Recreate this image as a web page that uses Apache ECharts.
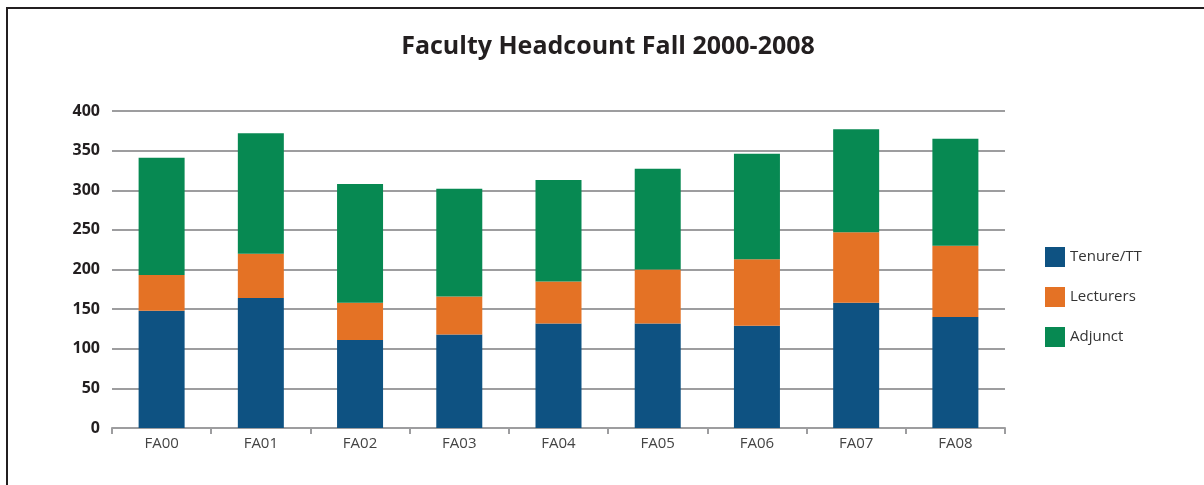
<!DOCTYPE html>
<html>
<head>
<meta charset="utf-8">
<script src="https://cdn.jsdelivr.net/npm/echarts@6/dist/echarts.min.js"></script>
<style>
    html, body { margin: 0; padding: 0; background: #fff; }
    #frame {
        position: absolute; left: 6px; top: 7px; width: 1220px; height: 500px;
        border-top: 2px solid #231f20; border-left: 2px solid #231f20;
    }
    #chart { position: absolute; left: 0; top: 0; width: 1204px; height: 485px; }
</style>
</head>
<body>
<div id="frame"></div>
<div id="chart"></div>
<script>
// data
const terms = ['FA00', 'FA01', 'FA02', 'FA03', 'FA04', 'FA05', 'FA06', 'FA07', 'FA08'];
const tenure = [148, 164, 111, 118, 132, 132, 129, 158, 140];
const lecturers = [45, 56, 47, 48, 53, 68, 84, 89, 90];
const adjunct = [148, 152, 150, 136, 128, 127, 133, 130, 135];

const chart = echarts.init(document.getElementById('chart'));
const font = '"Open Sans", "DejaVu Sans", sans-serif';

function bar(name, data, color) {
    return {
        name: name,
        type: 'bar',
        stack: 'total',
        barWidth: 46,
        itemStyle: { color: color },
        data: data
    };
}

const option = {
    animation: false,
    textStyle: { fontFamily: font },
    title: {
        text: 'Faculty Headcount Fall 2000-2008',
        left: 603,
        textAlign: 'center',
        top: 29,
        textStyle: { fontSize: 25, fontWeight: 'bold', color: '#231f20', fontFamily: font }
    },
    legend: {
        orient: 'vertical',
        left: 1040,
        top: 242,
        itemWidth: 20,
        itemHeight: 20,
        itemGap: 20,
        icon: 'rect',
        textStyle: { fontSize: 15, color: '#333', fontFamily: font, padding: [0, 0, 0, 0] },
        data: ['Tenure/TT', 'Lecturers', 'Adjunct']
    },
    grid: { left: 112, right: 199, top: 111, bottom: 57 },
    xAxis: {
        type: 'category',
        data: terms,
        axisLine: { lineStyle: { color: '#9d9d9f', width: 2 } },
        axisTick: { show: true, length: 6, lineStyle: { color: '#9d9d9f', width: 2 } },
        axisLabel: { fontSize: 15, color: '#444', margin: 8, fontFamily: font }
    },
    yAxis: {
        type: 'value',
        min: 0,
        max: 400,
        interval: 50,
        axisLine: { show: false },
        axisTick: { show: false },
        axisLabel: { fontSize: 16, fontWeight: 'bold', color: '#231f20', margin: 12, fontFamily: font },
        splitLine: { lineStyle: { color: '#9d9d9f', width: 2 } }
    },
    series: [
        bar('Tenure/TT', tenure, '#0e5282'),
        bar('Lecturers', lecturers, '#e47225'),
        bar('Adjunct', adjunct, '#078952')
    ]
};

chart.setOption(option);
</script>
</body>
</html>
